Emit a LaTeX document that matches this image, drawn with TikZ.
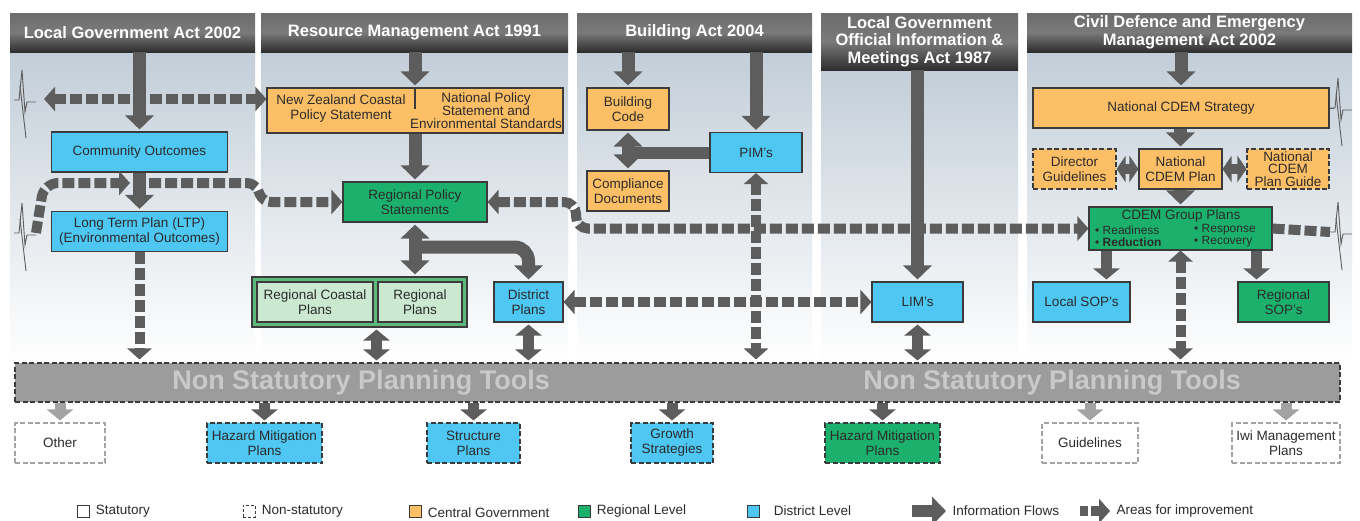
\documentclass[tikz,border=0pt]{standalone}
\usepackage{fontspec}
\setmainfont{Liberation Sans}
\usetikzlibrary{arrows.meta}

\definecolor{flowgray}{HTML}{5D5D5D}
\definecolor{palegray}{HTML}{A3A3A3}
\definecolor{distblue}{HTML}{4EC7F2}
\definecolor{centorange}{HTML}{FDBF66}
\definecolor{reggreen}{HTML}{1BB16C}
\definecolor{regframe}{HTML}{5DB97B}
\definecolor{regpale}{HTML}{CBE8D1}
\definecolor{colbg}{HTML}{C3CED8}
\definecolor{hdtop}{HTML}{6C6C6C}
\definecolor{hdmid}{HTML}{7A7A7A}
\definecolor{hdbot}{HTML}{2E2E2E}
\definecolor{barfill}{HTML}{9C9C9C}
\definecolor{bartext}{HTML}{C9C9C9}
\definecolor{boxedge}{HTML}{3B3B3B}
\definecolor{textgray}{HTML}{2B2B2B}

\newcommand{\hdrfont}{\fontsize{16.5}{17.5}\selectfont\bfseries}
\newcommand{\boxfont}{\fontsize{13.5}{15}\selectfont}
\newcommand{\tightfont}{\fontsize{13.5}{12.5}\selectfont}

\begin{document}
\begin{tikzpicture}
[x=1pt,y=-1pt,
  actbar/.style={top color=hdtop,bottom color=hdbot,middle color=hdmid,text=white,font=\hdrfont,align=center,inner sep=0pt},%
  planbox/.style={draw=boxedge,line width=1.1pt,font=\boxfont,text=textgray,align=center,inner sep=0pt},%
  nonstat/.style={planbox,dash pattern=on 5pt off 2.5pt},%
  boxtext/.style={font=\boxfont,text=textgray,align=center,inner sep=0pt},%
  gpitem/.style={anchor=west,font=\fontsize{12}{12}\selectfont,text=textgray,inner sep=0pt},%
  bartitle/.style={font=\fontsize{27}{27}\selectfont\bfseries,text=bartext},%
  legsq/.style={draw=boxedge,line width=0.8pt,minimum size=12pt,inner sep=0pt},%
  legtext/.style={right,xshift=3pt,font=\fontsize{13.5}{14}\selectfont,text=textgray},%
  flow/.style={draw=flowgray,line width=13pt,-{Triangle[width=28pt,length=14pt]},shorten >=2pt},%
  flowboth/.style={flow,{Triangle[width=28pt,length=14pt]}-{Triangle[width=28pt,length=14pt]},shorten <=2pt},%
  linkboth/.style={draw=flowgray,line width=11pt,{Triangle[width=26pt,length=11pt]}-{Triangle[width=26pt,length=11pt]},shorten <=2pt,shorten >=2pt},%
  toolflow/.style={draw=flowgray,line width=11pt,-{Triangle[width=26pt,length=11pt]},shorten >=2pt},%
  paleflow/.style={toolflow,draw=palegray},%
  flowbar/.style={draw=flowgray,line width=12pt},%
  improve/.style={draw=flowgray,line width=10pt,dash pattern=on 12pt off 4pt,-{Triangle[width=24pt,length=11pt]}},%
  improveboth/.style={improve,{Triangle[width=24pt,length=11pt]}-{Triangle[width=24pt,length=11pt]}},%
  improveline/.style={draw=flowgray,line width=10pt,dash pattern=on 12pt off 4pt},%
  breakmark/.pic={
    \draw[flowgray,line width=0.9pt,line join=miter] (-10,0) -- (-5,0) -- (-2,-30) -- (1,12) -- (3,2) -- (12,2);
    \draw[flowgray,line width=0.9pt] (-4,-14) -- (2,38);
  }]
\useasboundingbox (0,0) rectangle (1360,520);
\fill[white] (0,0) rectangle (1360,520);

% column backgrounds
\shade[top color=colbg,bottom color=white] (10,52) rectangle (255,362);
\shade[top color=colbg,bottom color=white] (261,52) rectangle (568,362);
\shade[top color=colbg,bottom color=white] (577,52) rectangle (812,362);
\shade[top color=colbg,bottom color=white] (821,70) rectangle (1018,362);
\shade[top color=colbg,bottom color=white] (1027,52) rectangle (1352,362);

% acts
\node[actbar,minimum width=245pt,minimum height=39pt] (hlga) at (132.5,32.5) {Local Government Act 2002};
\node[actbar,minimum width=307pt,minimum height=39pt] (hrma) at (414.5,32.5) {Resource Management Act 1991};
\node[actbar,minimum width=235pt,minimum height=39pt] (hba) at (694.5,32.5) {Building Act 2004};
\node[actbar,minimum width=197pt,minimum height=57pt] (hlgoima) at (919.5,41.5) {Local Government\\Official Information \&\\Meetings Act 1987};
\node[actbar,minimum width=325pt,minimum height=39pt] (hcdem) at (1189.5,32.5) {Civil Defence and Emergency\\Management Act 2002};

% plans and statements
\node[planbox,fill=distblue,minimum width=176pt,minimum height=40pt] (commout) at (139.5,152) {Community Outcomes};
\node[planbox,fill=distblue,minimum width=176pt,minimum height=40pt] (ltp) at (139.5,231.5) {Long Term Plan (LTP)\\(Environmental Outcomes)};
\node[planbox,fill=centorange,minimum width=296pt,minimum height=45pt] (nzcps) at (415,110.5) {};
\node[boxtext] (nzcpstext) at (341,109) {New Zealand Coastal\\Policy Statement};
\node[boxtext,font=\tightfont] (npstext) at (486,110.5) {National Policy\\Statement and\\Environmental Standards};
\draw[boxedge,line width=1.1pt] (nzcps.north) -- ++(0,22);
\node[planbox,fill=reggreen,minimum width=144pt,minimum height=40pt] (rps) at (415,202) {Regional Policy\\Statements};
\node[planbox,fill=regframe,minimum width=215pt,minimum height=50pt] (regbox) at (359.5,302) {};
\node[planbox,fill=regpale,minimum width=116pt,minimum height=40pt] (rcp) at (315,302) {Regional Coastal\\Plans};
\node[planbox,fill=regpale,minimum width=84pt,minimum height=40pt] (rplan) at (420,302) {Regional\\Plans};
\node[planbox,fill=distblue,minimum width=69pt,minimum height=40pt] (dplan) at (528.5,302) {District\\Plans};
\node[planbox,fill=centorange,minimum width=82pt,minimum height=42pt] (bcode) at (628,109) {Building\\Code};
\node[planbox,fill=centorange,minimum width=82pt,minimum height=40pt] (compdoc) at (628,191) {Compliance\\Documents};
\node[planbox,fill=distblue,minimum width=92pt,minimum height=40pt] (pim) at (756,152.5) {PIM's};
\node[planbox,fill=distblue,minimum width=91pt,minimum height=40pt] (lim) at (917.5,302) {LIM's};
\node[planbox,fill=centorange,minimum width=296pt,minimum height=40pt] (strat) at (1181,108) {National CDEM Strategy};
\node[nonstat,fill=centorange,minimum width=83pt,minimum height=40pt] (dirguide) at (1074.5,169) {Director\\Guidelines};
\node[planbox,fill=centorange,minimum width=83pt,minimum height=40pt] (natplan) at (1180.5,169) {National\\CDEM Plan};
\node[nonstat,fill=centorange,font=\tightfont,minimum width=82pt,minimum height=40pt] (planguide) at (1288,169) {National\\CDEM\\Plan Guide};
\node[planbox,fill=reggreen,minimum width=183pt,minimum height=43pt] (cdemgp) at (1180.5,228.5) {};
\node[boxtext] (gptitle) at (1181,216.5) {CDEM Group Plans};
\node[gpitem] (gpread) at (1095,230) {• Readiness};
\node[gpitem] (gpreduc) at (1095,242) {• \textbf{Reduction}};
\node[gpitem] (gpresp) at (1194,230) {• Response};
\node[gpitem] (gprecov) at (1194,242) {• Recovery};
\node[planbox,fill=distblue,minimum width=97pt,minimum height=40pt] (lsop) at (1081.5,302) {Local SOP's};
\node[planbox,fill=reggreen,minimum width=91pt,minimum height=40pt] (rsop) at (1283.5,302) {Regional\\SOP's};

% non statutory tools
\node[draw=boxedge,fill=barfill,line width=1.1pt,dash pattern=on 5pt off 2.5pt,minimum width=1325pt,minimum height=39pt] (nspt) at (677.5,382.5) {};
\node[bartitle] (nsptleft) at (361,383) {Non Statutory Planning Tools};
\node[bartitle] (nsptright) at (1052,383) {Non Statutory Planning Tools};
\node[nonstat,fill=white,draw=palegray,minimum width=90pt,minimum height=40pt] (other) at (60,443) {Other};
\node[nonstat,fill=distblue,minimum width=115pt,minimum height=40pt] (hmpdist) at (264.5,443) {Hazard Mitigation\\Plans};
\node[nonstat,fill=distblue,minimum width=93pt,minimum height=40pt] (struct) at (473.5,443) {Structure\\Plans};
\node[nonstat,fill=distblue,minimum width=82pt,minimum height=40pt] (growth) at (672,443) {Growth\\Strategies};
\node[nonstat,fill=reggreen,minimum width=115pt,minimum height=40pt] (hmpreg) at (882.5,443) {Hazard Mitigation\\Plans};
\node[nonstat,fill=white,draw=palegray,minimum width=96pt,minimum height=40pt] (guide) at (1090,443) {Guidelines};
\node[nonstat,fill=white,draw=palegray,minimum width=108pt,minimum height=40pt] (iwi) at (1286,443) {Iwi Management\\Plans};

% breaks at the edges
\pic at (24,100) {breakmark};
\pic at (24,233) {breakmark};
\pic at (1340,108) {breakmark};
\pic at (1340,232) {breakmark};
\coordinate (lgaleft) at (44,99);
\coordinate (ltpjag) at (36,233);
\coordinate (dashstop) at (130,183);
\coordinate (dashgo) at (149,183);
\coordinate (gpjag) at (1330,232);

% areas for improvement
\draw[improveboth] (lgaleft) -- (nzcps.west |- lgaleft);
\draw[improve,rounded corners=14pt] (ltpjag) -- (44,183) -- (dashstop);
\draw[improve,rounded corners=8pt] (dashgo) -- (255,183) -- (263,202) -- (rps.west);
\draw[improveboth,rounded corners=12pt] (rps.east) -- (576,202) |- (cdemgp.west);
\draw[improveline] (cdemgp.east) -- (gpjag);
\draw[flowgray,line width=0.9pt] (strat.east) -- ++(4,0);
\draw[improve,shorten >=3pt] (ltp.south) -- (ltp.south |- nspt.north);
\draw[improveboth,shorten >=3pt] (pim.south) -- (pim.south |- nspt.north);
\draw[improveboth,shorten >=3pt] (cdemgp.south) -- (cdemgp.south |- nspt.north);
\draw[improveboth] (dplan.east) -- (lim.west);

% information flows
\draw[flow] (commout.north |- hlga.south) -- (commout.north);
\draw[flow] (commout.south) -- (ltp.north);
\draw[flow] (nzcps.north |- hrma.south) -- (nzcps.north);
\draw[flow] (nzcps.south) -- (rps.north);
\coordinate (rpsfork) at (415,247);
\draw[flow,rounded corners=14pt] (rpsfork) -| (dplan.north);
\draw[flowboth] (rps.south) -- (rps.south |- regbox.north);
\draw[flow] (bcode.north |- hba.south) -- (bcode.north);
\draw[flowbar] (bcode.south |- pim.west) -- (pim.west);
\draw[flowboth] (bcode.south) -- (compdoc.north);
\draw[flow] (pim.north |- hba.south) -- (pim.north);
\draw[flow] (lim.north |- hlgoima.south) -- (lim.north);
\draw[flow] (strat.north |- hcdem.south) -- (strat.north);
\draw[flow] (natplan.north |- strat.south) -- (natplan.north);
\draw[flow] (natplan.south) -- (natplan.south |- cdemgp.north);
\draw[draw=flowgray,line width=10pt,{Triangle[width=26pt,length=9pt]}-{Triangle[width=26pt,length=9pt]}] (dirguide.east) -- (natplan.west);
\draw[draw=flowgray,line width=10pt,{Triangle[width=26pt,length=9pt]}-{Triangle[width=26pt,length=9pt]}] (natplan.east) -- (planguide.west);
\coordinate (gpleft) at ([xshift=18pt]cdemgp.south west);
\coordinate (gpright) at ([xshift=-16pt]cdemgp.south east);
\draw[toolflow] (gpleft) -- (gpleft |- lsop.north);
\draw[toolflow] (gpright) -- (gpright |- rsop.north);
\coordinate (regdrop) at ([xshift=17pt]regbox.south);
\draw[linkboth] (regdrop) -- (regdrop |- nspt.north);
\draw[linkboth] (dplan.south) -- (dplan.south |- nspt.north);
\draw[linkboth] (lim.south) -- (lim.south |- nspt.north);

% tools below the bar
\draw[paleflow] (nspt.south -| other.north) -- (other.north);
\draw[toolflow] (nspt.south -| hmpdist.north) -- (hmpdist.north);
\draw[toolflow] (nspt.south -| struct.north) -- (struct.north);
\draw[toolflow] (nspt.south -| growth.north) -- (growth.north);
\draw[toolflow] (nspt.south -| hmpreg.north) -- (hmpreg.north);
\draw[paleflow] (nspt.south -| guide.north) -- (guide.north);
\draw[paleflow] (nspt.south -| iwi.north) -- (iwi.north);

% legend
\node[legsq] (lgstat) at (83,511) {};
\node[legtext] at (lgstat.east) {Statutory};
\node[legsq,dash pattern=on 3pt off 2pt] (lgnon) at (249,511) {};
\node[legtext] at (lgnon.east) {Non-statutory};
\node[legsq,fill=centorange] (lgcent) at (415,511) {};
\node[legtext,yshift=-2pt] at (lgcent.east) {Central Government};
\node[legsq,fill=reggreen] (lgreg) at (584,511) {};
\node[legtext] at (lgreg.east) {Regional Level};
\node[legsq,fill=distblue] (lgdist) at (753,511) {};
\node[legtext,xshift=8pt] at (lgdist.east) {District Level};
\coordinate (lgflowa) at (912,511);
\coordinate (lgflowb) at (946,511);
\draw[flow,line width=12pt,shorten >=0pt] (lgflowa) -- (lgflowb);
\node[legtext] at (lgflowb) {Information Flows};
\coordinate (lgimpa) at (1080,511);
\coordinate (lgimpb) at (1110,511);
\draw[improve,dash pattern=on 8pt off 3pt] (lgimpa) -- (lgimpb);
\node[legtext] at (lgimpb) {Areas for improvement};
\end{tikzpicture}
\end{document}
